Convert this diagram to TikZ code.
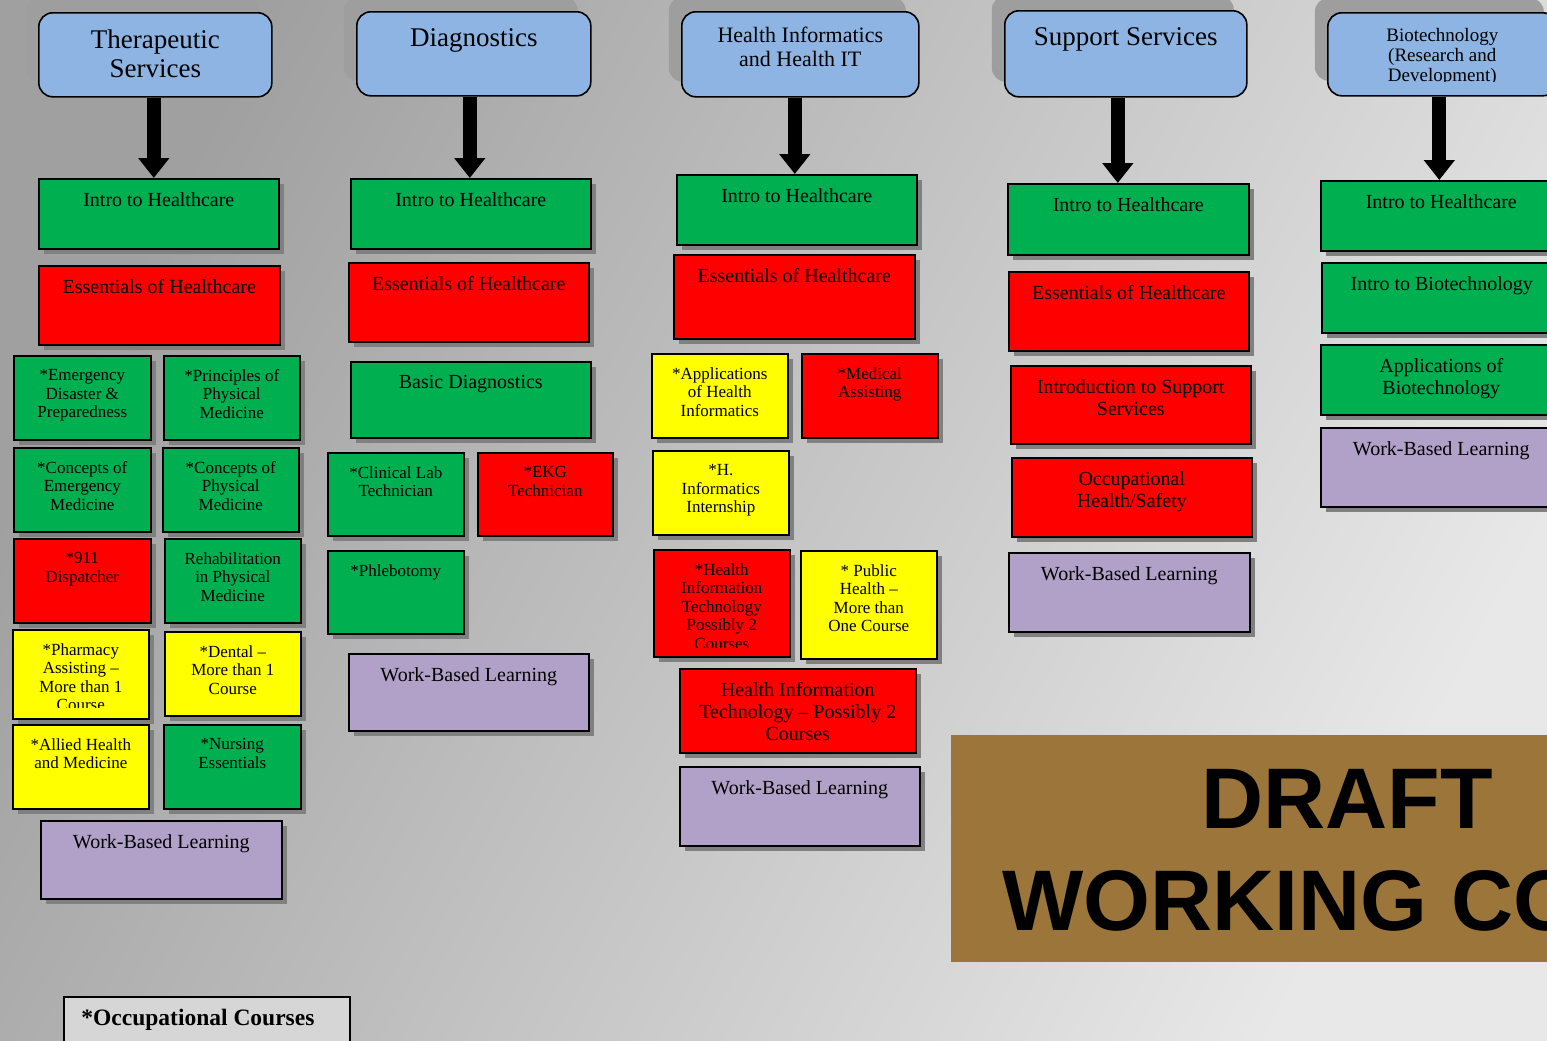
\documentclass[tikz,border=0pt]{standalone}
\usepackage{fontspec}
\setmainfont{Liberation Serif}
\newfontfamily\draftfont{Liberation Sans}
\usetikzlibrary{arrows.meta,shadows}

\definecolor{hdrc}{RGB}{141,180,226}
\definecolor{grnc}{RGB}{0,176,80}
\definecolor{redc}{RGB}{255,0,0}
\definecolor{ylwc}{RGB}{255,255,0}
\definecolor{purc}{RGB}{177,160,199}
\definecolor{drftc}{RGB}{155,117,58}
\definecolor{bgL}{RGB}{160,160,160}
\definecolor{bgR}{RGB}{232,232,232}
\definecolor{occc}{RGB}{214,214,214}

\tikzset{
  box/.style={draw=black, line width=0.8pt, inner sep=0pt,
    drop shadow={shadow xshift=2.5pt, shadow yshift=-2.5pt, fill=black!50, opacity=1}},
  gbox/.style={box, fill=grnc},
  rbox/.style={box, fill=redc},
  ybox/.style={box, fill=ylwc},
  pbox/.style={box, fill=purc},
  hbox/.style={draw=black, line width=0.8pt, fill=hdrc, rounded corners=7pt, inner sep=0pt,
    drop shadow={shadow xshift=-6.5pt, shadow yshift=7.5pt, fill=black!38, opacity=1}},
  tbig/.style={font=\fontsize{10}{11}\selectfont, align=center, inner sep=0pt, yshift=-7pt},
  tsml/.style={font=\fontsize{8.5}{9.25}\selectfont, align=center, inner sep=0pt, yshift=-7pt},
  thdr/.style={font=\fontsize{13.5}{14.5}\selectfont, align=center, inner sep=0pt, yshift=-8.75pt},
  thdm/.style={font=\fontsize{11}{12}\selectfont, align=center, inner sep=0pt, yshift=-8pt},
  thds/.style={font=\fontsize{9.5}{10}\selectfont, align=center, inner sep=0pt, yshift=-8pt},
  bigarrow/.style={line width=7pt, -{Triangle[width=15pt,length=10pt]}},
}

% name, style, x1, y1, x2, y2, text style, text
\newcommand\bx[8]{%
  \node[#2, anchor=north west, minimum width={(#5-#3)*0.5pt}, minimum height={(#6-#4)*0.5pt}] (#1) at (#3,#4) {};
  \node[#7, anchor=north] (#1t) at (#1.north) {#8};}
% same, with text clipped at y = #9
\newcommand\bxc[9]{%
  \node[#2, anchor=north west, minimum width={(#5-#3)*0.5pt}, minimum height={(#6-#4)*0.5pt}] (#1) at (#3,#4) {};
  \begin{scope}
    \clip (#3,#4) rectangle (#5,#9);
    \node[#7, anchor=north] (#1t) at (#1.north) {#8};
  \end{scope}}
\newcommand\arr[3]{%
  \coordinate (#1s) at ([xshift=#2]#1.south);
  \draw[bigarrow] (#1s) -- (#1s |- #3.north);}

\begin{document}
\begin{tikzpicture}[x=0.5pt,y=-0.5pt]
\useasboundingbox (0,0) rectangle (1547,1040);
\shade[top color=bgL, bottom color=bgR, shading angle=62] (0,0) rectangle (1547,1040);

% ---------- Column 1: Therapeutic Services
\bx{h1}{hbox}{38}{12}{271}{96}{thdr}{Therapeutic\\Services}
\bx{i1}{gbox}{38}{178}{278}{248}{tbig}{Intro to Healthcare}
\bx{e1}{rbox}{38}{265}{279}{344}{tbig}{Essentials of Healthcare}
\bx{c1a}{gbox}{13}{355}{150}{439}{tsml}{*Emergency\\Disaster \&\\Preparedness}
\bx{c1b}{gbox}{163}{355}{299}{439}{tsml}{*Principles of\\Physical\\Medicine}
\bx{c1c}{gbox}{13}{447}{150}{531}{tsml}{*Concepts of\\Emergency\\Medicine}
\bx{c1d}{gbox}{162}{447}{298}{531}{tsml}{*Concepts of\\Physical\\Medicine}
\bx{c1e}{rbox}{13}{538}{150}{622}{tsml}{*911\\Dispatcher}
\bx{c1f}{gbox}{164}{538}{300}{622}{tsml}{Rehabilitation\\in Physical\\Medicine}
\bxc{c1g}{ybox}{12}{629}{148}{718}{tsml}{*Pharmacy\\Assisting –\\More than 1\\Course}{707}
\bx{c1h}{ybox}{164}{631}{300}{715}{tsml}{*Dental –\\More than 1\\Course}
\bx{c1i}{ybox}{12}{724}{148}{808}{tsml}{*Allied Health\\and Medicine}
\bx{c1j}{gbox}{163}{724}{300}{808}{tsml}{*Nursing\\Essentials}
\bx{w1}{pbox}{40}{820}{281}{898}{tbig}{Work-Based Learning}
\arr{h1}{-0.75pt}{i1}

% ---------- Column 2: Diagnostics
\bx{h2}{hbox}{356}{11}{590}{95}{thdr}{Diagnostics}
\bx{i2}{gbox}{350}{178}{590}{248}{tbig}{Intro to Healthcare}
\bx{e2}{rbox}{348}{262}{588}{341}{tbig}{Essentials of Healthcare}
\bx{b2}{gbox}{350}{361}{590}{437}{tbig}{Basic Diagnostics}
\bx{c2a}{gbox}{327}{452}{463}{535}{tsml}{*Clinical Lab\\Technician}
\bx{c2b}{rbox}{477}{452}{612}{535}{tsml}{*EKG\\Technician}
\bx{c2c}{gbox}{327}{550}{463}{633}{tsml}{*Phlebotomy}
\bx{w2}{pbox}{348}{653}{588}{730}{tbig}{Work-Based Learning}
\arr{h2}{-2pt}{i2}

% ---------- Column 3: Health Informatics
\bx{h3}{hbox}{681}{11}{918}{96}{thdm}{Health Informatics\\and Health IT}
\bx{i3}{gbox}{676}{174}{916}{244}{tbig}{Intro to Healthcare}
\bx{e3}{rbox}{673}{254}{914}{338}{tbig}{Essentials of Healthcare}
\bx{c3a}{ybox}{651}{353}{787}{437}{tsml}{*Applications\\of Health\\Informatics}
\bx{c3b}{rbox}{801}{353}{937}{437}{tsml}{*Medical\\Assisting}
\bx{c3c}{ybox}{652}{450}{788}{534}{tsml}{*H.\\Informatics\\Internship}
\bxc{c3d}{rbox}{653}{549}{789}{656}{tsml}{*Health\\Information\\Technology\\Possibly 2\\Courses}{647}
\bx{c3e}{ybox}{800}{550}{936}{658}{tsml}{* Public\\Health –\\More than\\One Course}
\bx{c3f}{rbox}{679}{668}{915}{752}{tbig}{Health Information\\Technology – Possibly 2\\Courses}
\bx{w3}{pbox}{679}{766}{919}{845}{tbig}{Work-Based Learning}
\arr{h3}{-2.75pt}{i3}

% ---------- Column 4: Support Services
\bx{h4}{hbox}{1004}{10}{1246}{96}{thdr}{Support Services}
\bx{i4}{gbox}{1007}{183}{1248}{254}{tbig}{Intro to Healthcare}
\bx{e4}{rbox}{1008}{271}{1248}{350}{tbig}{Essentials of Healthcare}
\bx{c4a}{rbox}{1010}{365}{1250}{443}{tbig}{Introduction to Support\\Services}
\bx{c4b}{rbox}{1011}{457}{1251}{536}{tbig}{Occupational\\Health/Safety}
\bx{w4}{pbox}{1008}{552}{1249}{631}{tbig}{Work-Based Learning}
\arr{h4}{-4pt}{i4}

% ---------- Column 5: Biotechnology
\bxc{h5}{hbox}{1327}{12}{1556}{95}{thds}{Biotechnology\\(Research and\\Development)}{81}
\bx{i5}{gbox}{1320}{180}{1561}{250}{tbig}{Intro to Healthcare}
\bx{c5a}{gbox}{1321}{262}{1561}{332}{tbig}{Intro to Biotechnology}
\bx{c5b}{gbox}{1320}{344}{1561}{414}{tbig}{Applications of\\Biotechnology}
\bx{w5}{pbox}{1320}{427}{1561}{506}{tbig}{Work-Based Learning}
\arr{h5}{-1.5pt}{i5}

% ---------- Draft banner
\node[fill=drftc, inner sep=0pt, anchor=north west, minimum width=325pt, minimum height=113.5pt] (draft) at (951,735) {};
\node[font=\draftfont\bfseries\fontsize{43}{43}\selectfont, anchor=base west, inner sep=0pt] (draftt) at (1201,828) {DRAFT};
\node[font=\draftfont\bfseries\fontsize{43}{43}\selectfont, anchor=base west, inner sep=0pt] (workt) at (1002,930) {WORKING CO};

% ---------- Legend
\node[draw=black, line width=0.8pt, fill=occc, inner sep=0pt, anchor=north west, minimum width=143pt, minimum height=30pt] (occ) at (63,996) {};
\node[font=\bfseries\fontsize{11.75}{12}\selectfont, anchor=base west, inner sep=0pt] (occt) at (81,1025) {*Occupational Courses};
\end{tikzpicture}
\end{document}
